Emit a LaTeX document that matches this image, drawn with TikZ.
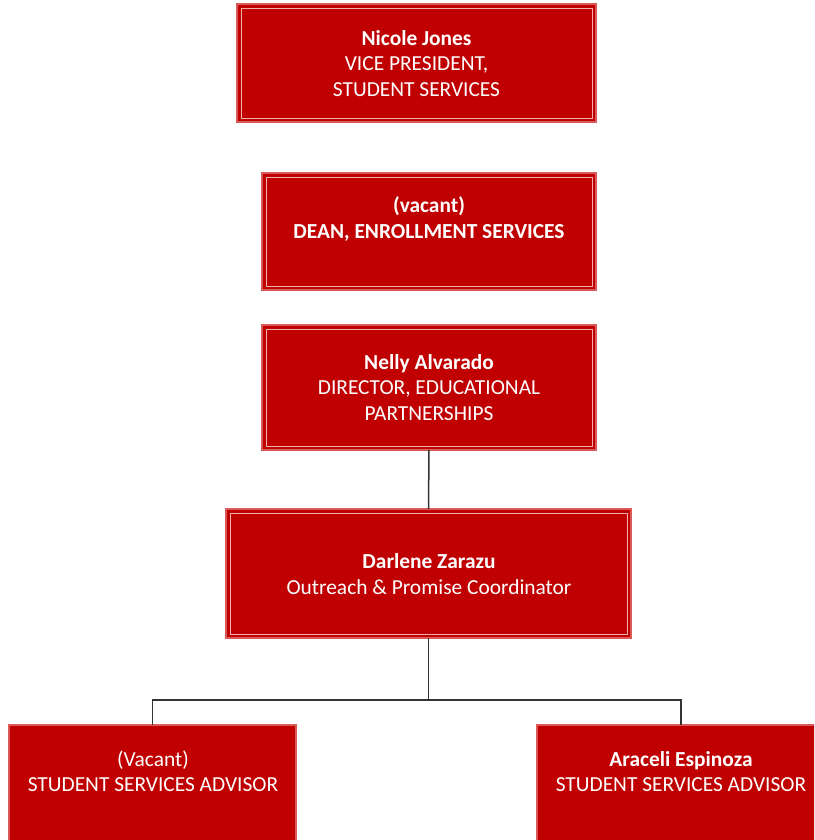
\documentclass[tikz,border=0pt]{standalone}
\usepackage{fontspec}
\setmainfont{Carlito}
\begin{document}
\begin{tikzpicture}[x=1pt,y=1pt,
  boxfill/.style={rectangle, fill=boxred, draw=boxedge, line width=1.2pt, inner sep=0pt, outer sep=0pt},
  framed/.style={boxfill,
    path picture={\draw[draw=innerline, line width=0.7pt]
      ([shift={(4pt,-4pt)}]path picture bounding box.north west) rectangle
      ([shift={(-4pt,4pt)}]path picture bounding box.south east);}},
  label/.style={text=white, align=center, inner sep=0pt, font=\fontsize{21.4}{25.3}\selectfont},
  link/.style={draw=linkgray, line width=1.5pt}
]
\definecolor{boxred}{HTML}{C00000}
\definecolor{boxedge}{HTML}{DA5A5A}
\definecolor{innerline}{HTML}{F2B0B0}
\definecolor{linkgray}{HTML}{333333}
\clip (0,0) rectangle (814,840);
\fill[white] (0,0) rectangle (814,840);

% boxes
\node[framed, minimum width=359pt, minimum height=118pt] (b1) at (416.5,777) {};
\node[framed, minimum width=334pt, minimum height=117pt] (b2) at (429,608.5) {};
\node[framed, minimum width=334pt, minimum height=125pt] (b3) at (429,452.5) {};
\node[framed, minimum width=405pt, minimum height=129pt] (b4) at (428.5,266.5) {};
\node[boxfill, minimum width=287pt, minimum height=135pt] (b5) at (152.5,47.5) {};
\node[boxfill, minimum width=296pt, minimum height=135pt] (b6) at (685,47.5) {};

% texts
\node[label] (t1) at (416.5,776.5) {\textbf{Nicole Jones}\\VICE PRESIDENT,\\STUDENT SERVICES};
\node[label] (t2) at (429,621) {\textbf{(vacant)}\\\textbf{DEAN, ENROLLMENT SERVICES}};
\node[label] (t3) at (429,452.5) {\textbf{Nelly Alvarado}\\DIRECTOR, EDUCATIONAL\\PARTNERSHIPS};
\node[label] (t4) at (429,266) {\textbf{Darlene Zarazu}\\Outreach \& Promise Coordinator};
\node[label] (t5) at (153,68.5) {(Vacant)\\STUDENT SERVICES ADVISOR};
\node[label] (t6) at (681,68.5) {\textbf{Araceli Espinoza}\\STUDENT SERVICES ADVISOR};

% connectors
\draw[link] (b3.south) -- (b4.north);
\coordinate (bus) at (b4.south |- 0,140);
\draw[link] (b4.south) -- (bus);
\draw[link] (bus) -| (b5.north);
\draw[link] (bus) -| ([xshift=-4pt]b6.north);
\end{tikzpicture}
\end{document}
